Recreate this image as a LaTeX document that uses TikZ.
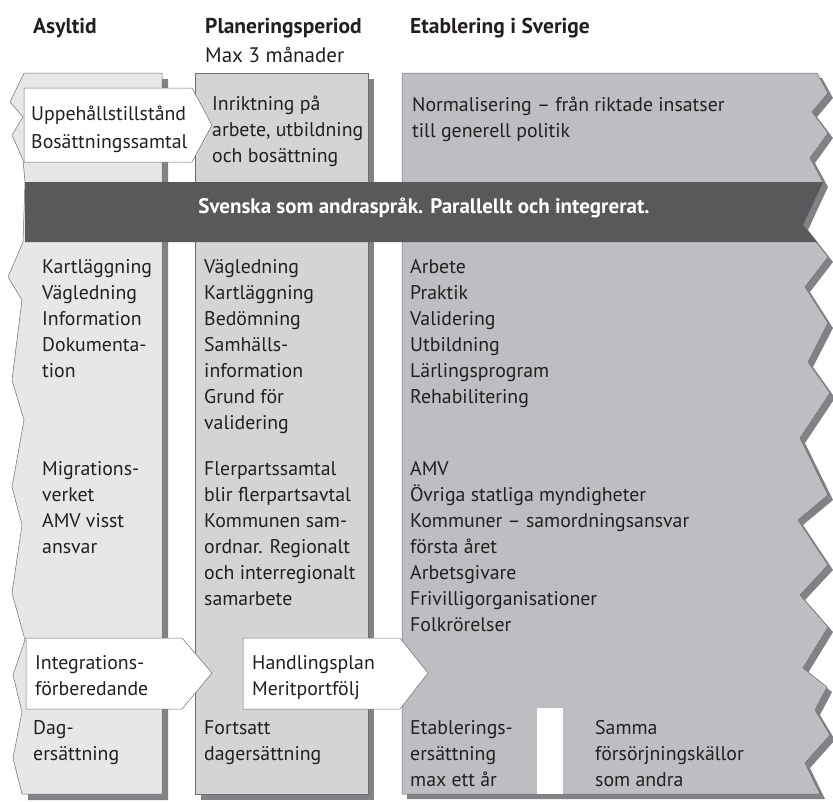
\documentclass[tikz,border=0pt]{standalone}
\usepackage{fontspec}
\setmainfont{PT Sans}
\definecolor{asylgray}{HTML}{E6E7E8}
\definecolor{plangray}{HTML}{D3D4D6}
\definecolor{etabgray}{HTML}{BDBEC1}
\definecolor{bandgray}{HTML}{58595B}
\definecolor{shadowgray}{HTML}{808285}
\definecolor{edgegray}{HTML}{6D6E71}
\definecolor{inkgray}{HTML}{231F20}
\newcommand{\bodyfont}{\fontsize{19.8}{23}\selectfont}
\newcommand{\headfont}{\fontsize{21.5}{25}\selectfont\bfseries}
\begin{document}
\begin{tikzpicture}
[x=1pt,y=-1pt,
  colDecorate/.style={draw=edgegray,line width=0.5pt},
  shadowDecorate/.style={fill=shadowgray},
  arrowboxDecorate/.style={fill=white,draw=edgegray,line width=0.5pt},
  bodytext/.style={anchor=base west,inner sep=0pt,text=inkgray,font=\bodyfont},
  headtext/.style={bodytext,font=\headfont},
  bandtext/.style={anchor=base,inner sep=0pt,text=white,font=\fontsize{21}{25}\selectfont\bfseries}]
\useasboundingbox (0,0) rectangle (833,801);
%% shadows
\fill[shadowDecorate,shift={(6,6)}] (24,73) -- (162,73) -- (162,794) -- (22,794) -- cycle;
\fill[shadowDecorate,shift={(6,6)}] (195,73) rectangle (368,794);
\fill[shadowDecorate,shift={(5,5)}] (402,73) -- (817,73) -- (828,93) -- (812,112)
  -- (828,133) -- (810,158) -- (823,182) -- (803,225) -- (828,257) -- (805,287)
  -- (828,323) -- (808,362) -- (830,393) -- (800,438) -- (828,495) -- (798,520)
  -- (828,565) -- (800,595) -- (828,627) -- (803,668) -- (827,687) -- (815,710)
  -- (830,735) -- (805,763) -- (820,794) -- (402,794) -- cycle;
%% columns
\filldraw[colDecorate,fill=asylgray] (24,73) -- (162,73) -- (162,794) -- (22,794)
  -- (13,758) -- (22,712) -- (13,675) -- (25,640) -- (12,593) -- (22,525)
  -- (12,487) -- (24,420) -- (12,380) -- (22,300) -- (8,277) -- (23,242)
  -- (25,182) -- (23,160) -- (12,135) -- (23,117) -- (10,102) -- cycle;
\filldraw[colDecorate,fill=plangray] (195,73) rectangle (368,794);
\filldraw[colDecorate,fill=etabgray] (402,73) -- (817,73) -- (828,93) -- (812,112)
  -- (828,133) -- (810,158) -- (823,182) -- (803,225) -- (828,257) -- (805,287)
  -- (828,323) -- (808,362) -- (830,393) -- (800,438) -- (828,495) -- (798,520)
  -- (828,565) -- (800,595) -- (828,627) -- (803,668) -- (827,687) -- (815,710)
  -- (830,735) -- (805,763) -- (820,794) -- (402,794) -- cycle;
\fill[white] (537,708) rectangle (563,794);
%% band across
\fill[bandgray] (25,182) -- (823,182) -- (803,225) -- (817,242) -- (25,242) -- cycle;
%% white arrows
\filldraw[arrowboxDecorate] (24,88) -- (192,88) -- (212,125) -- (192,162) -- (24,162) -- cycle;
\filldraw[arrowboxDecorate] (26,638) -- (182,638) -- (212,673) -- (182,709) -- (26,709) -- cycle;
\filldraw[arrowboxDecorate] (243,638) -- (400,638) -- (428,673) -- (400,709) -- (243,709) -- cycle;
%% headings
\node[headtext] (asyltid) at (33,33) {Asyltid};
\node[headtext] (planering) at (205,33) {Planeringsperiod};
\node[bodytext,font=\fontsize{21}{25}\selectfont] (maxtre) at (205,62) {Max 3 månader};
\node[headtext] (etablering) at (410,33) {Etablering i Sverige};
\node[bandtext] (svenska) at (424,213) {Svenska som andraspråk. Parallellt och integrerat.};
%% column texts
\foreach \blk/\x/\y/\dy/\lines in {
  upp/31/92/28/{Uppehållstillstånd,Bosättningssamtal},
  kart/42/247/26/{Kartläggning,Vägledning,Information,Dokumenta-,tion},
  migr/42/449/26/{Migrations-,verket,AMV visst,ansvar},
  integ/35/643/26/{Integrations-,förberedande},
  dag/33/708/26/{Dag-,ersättning},
  inrikt/212/84/26/{Inriktning på,{arbete, utbildning},och bosättning},
  vagl/204/247/26/{Vägledning,Kartläggning,Bedömning,Samhälls-,information,Grund för,validering},
  fler/204/449/26/{Flerpartssamtal,blir flerpartsavtal,Kommunen sam-,ordnar. Regionalt,och interregionalt,samarbete},
  handl/252/643/26/{Handlingsplan,Meritportfölj},
  fort/204/708/26/{Fortsatt,dagersättning},
  norm/412/85/26/{Normalisering – från riktade insatser,till generell politik},
  arb/410/247/26/{Arbete,Praktik,Validering,Utbildning,Lärlingsprogram,Rehabilitering},
  amv/410/449/26/{AMV,Övriga statliga myndigheter,Kommuner – samordningsansvar,första året,Arbetsgivare,Frivilligorganisationer,Folkrörelser},
  etab/410/708/26/{Etablerings-,ersättning,max ett år},
  samma/595/708/26/{Samma,försörjningskällor,som andra}}
{
  \foreach \txt [count=\i] in \lines
    \node[bodytext] (\blk\i) at (\x,{\y+\dy*\i}) {\txt};
}
\end{tikzpicture}
\end{document}
